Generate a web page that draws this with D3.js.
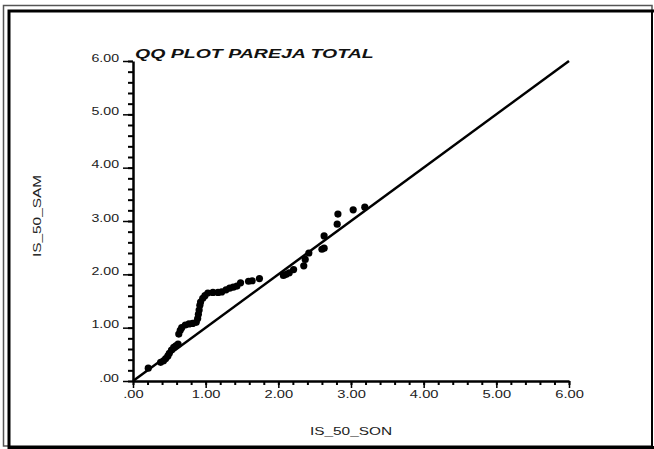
<!DOCTYPE html>
<html>
<head>
<meta charset="utf-8">
<script src="https://cdn.jsdelivr.net/npm/d3@7"></script>
<style>
  body { margin: 0; background: #fff; }
  svg { display: block; font-family: "Liberation Sans", Arial, sans-serif; }
</style>
</head>
<body>
<svg id="chart" width="654" height="449"></svg>
<script>
// QQ plot values (sorted quantiles)
const sonQ = [0.21, 0.38, 0.42, 0.45, 0.48, 0.50, 0.53, 0.56, 0.59, 0.62,
  0.63, 0.65, 0.67, 0.72, 0.77, 0.82, 0.87, 0.89, 0.90, 0.91,
  0.92, 0.93, 0.96, 0.99, 1.03, 1.10, 1.17, 1.22, 1.28, 1.33,
  1.38, 1.43, 1.48, 1.59, 1.64, 1.74, 2.07, 2.11, 2.15, 2.21,
  2.35, 2.37, 2.42, 2.60, 2.63, 2.63, 2.81, 2.82, 3.03, 3.19];
const samQ = [0.24, 0.35, 0.38, 0.42, 0.47, 0.52, 0.58, 0.63, 0.66, 0.69,
  0.88, 0.95, 1.00, 1.05, 1.07, 1.08, 1.10, 1.17, 1.25, 1.33,
  1.42, 1.48, 1.55, 1.60, 1.65, 1.66, 1.66, 1.67, 1.71, 1.74,
  1.76, 1.78, 1.84, 1.87, 1.88, 1.92, 1.98, 2.00, 2.03, 2.09,
  2.16, 2.28, 2.40, 2.47, 2.49, 2.72, 2.94, 3.13, 3.21, 3.26];
const refLine = [0, 6];  // y = x reference line end points
const tickVals = [0, 1, 2, 3, 4, 5, 6];
const title = 'QQ PLOT PAREJA TOTAL';
const xTitle = 'IS_50_SON';
const yTitle = 'IS_50_SAM';

const svg = d3.select('#chart');

// double frame round the picture
svg.append('rect')
  .attr('x', 3.5).attr('y', 5.5).attr('width', 648.5).attr('height', 440.5)
  .attr('fill', 'none').attr('stroke', '#555').attr('stroke-width', 1.5);
svg.append('rect')
  .attr('x', 9).attr('y', 11).attr('width', 700).attr('height', 436.5)
  .attr('fill', 'none').attr('stroke', '#000').attr('stroke-width', 3);
svg.append('line')
  .attr('x1', 652).attr('x2', 652).attr('y1', 11).attr('y2', 449)
  .attr('stroke', '#000').attr('stroke-width', 2);

const margin = { top: 61, left: 133 };
const w = 436, h = 320;

const x = d3.scaleLinear().domain([0, 6]).range([0, w]);
const y = d3.scaleLinear().domain([0, 6]).range([h, 0]);

const g = svg.append('g')
  .attr('transform', `translate(${margin.left},${margin.top})`);

const fmt = v => v === 0 ? '.00' : d3.format('.2f')(v);

// stretch the text a bit, the old chart used a wide font
function widen(sel, k) {
  sel.each(function() {
    const len = this.getComputedTextLength();
    this.setAttribute('textLength', len * k);
    this.setAttribute('lengthAdjust', 'spacingAndGlyphs');
  });
}

// minor ticks every 0.2
const minor = d3.range(0, 6.001, 0.2);

g.append('g')
  .attr('transform', `translate(0,${h})`)
  .call(d3.axisBottom(x).tickValues(minor).tickSize(4).tickFormat(''))
  .call(a => a.select('.domain').remove())
  .selectAll('line').attr('stroke-width', 2);

const xAxis = g.append('g')
  .attr('transform', `translate(0,${h})`)
  .call(d3.axisBottom(x).tickValues(tickVals).tickSize(7).tickSizeOuter(0).tickFormat(fmt).tickPadding(3));
xAxis.select('.domain').attr('stroke-width', 2.5);
xAxis.selectAll('line').attr('stroke-width', 1.5);
xAxis.selectAll('text')
  .attr('font-size', '10.5px').attr('fill', '#222')
  .call(widen, 1.4);

g.append('g')
  .call(d3.axisLeft(y).tickValues(minor).tickSize(5).tickFormat(''))
  .call(a => a.select('.domain').remove())
  .selectAll('line').attr('stroke-width', 2);

const yAxis = g.append('g')
  .call(d3.axisLeft(y).tickValues(tickVals).tickSize(10).tickSizeOuter(0).tickFormat(fmt).tickPadding(4));
yAxis.select('.domain').attr('stroke-width', 2.5);
yAxis.selectAll('line').attr('stroke-width', 1.5);
yAxis.selectAll('text')
  .attr('font-size', '10.5px').attr('fill', '#222')
  .attr('dy', '0')
  .call(widen, 1.35);

// y = x line
g.append('line')
  .attr('x1', x(refLine[0])).attr('y1', y(refLine[0]))
  .attr('x2', x(refLine[1])).attr('y2', y(refLine[1]))
  .attr('stroke', '#000').attr('stroke-width', 2.5);

// points
g.selectAll('.pt')
  .data(d3.zip(sonQ, samQ))
  .enter().append('circle')
    .attr('class', 'pt')
    .attr('cx', d => x(d[0]))
    .attr('cy', d => y(d[1]))
    .attr('r', 3.6)
    .attr('fill', '#000');

// title
svg.append('text')
  .attr('x', margin.left + 2)
  .attr('y', margin.top - 3)
  .attr('font-size', '13px')
  .attr('font-weight', 'bold')
  .attr('font-style', 'italic')
  .attr('fill', '#111')
  .text(title)
  .call(widen, 1.5);

// axis titles
svg.append('text')
  .attr('x', margin.left + w / 2)
  .attr('y', margin.top + h + 54)
  .attr('text-anchor', 'middle')
  .attr('font-size', '11px')
  .attr('fill', '#222')
  .text(xTitle)
  .call(widen, 1.4);

svg.append('text')
  .attr('transform', `translate(41,${margin.top + h / 2 - 5}) rotate(-90)`)
  .attr('text-anchor', 'middle')
  .attr('font-size', '11px')
  .attr('fill', '#222')
  .text(yTitle)
  .call(widen, 1.4);
</script>
</body>
</html>
